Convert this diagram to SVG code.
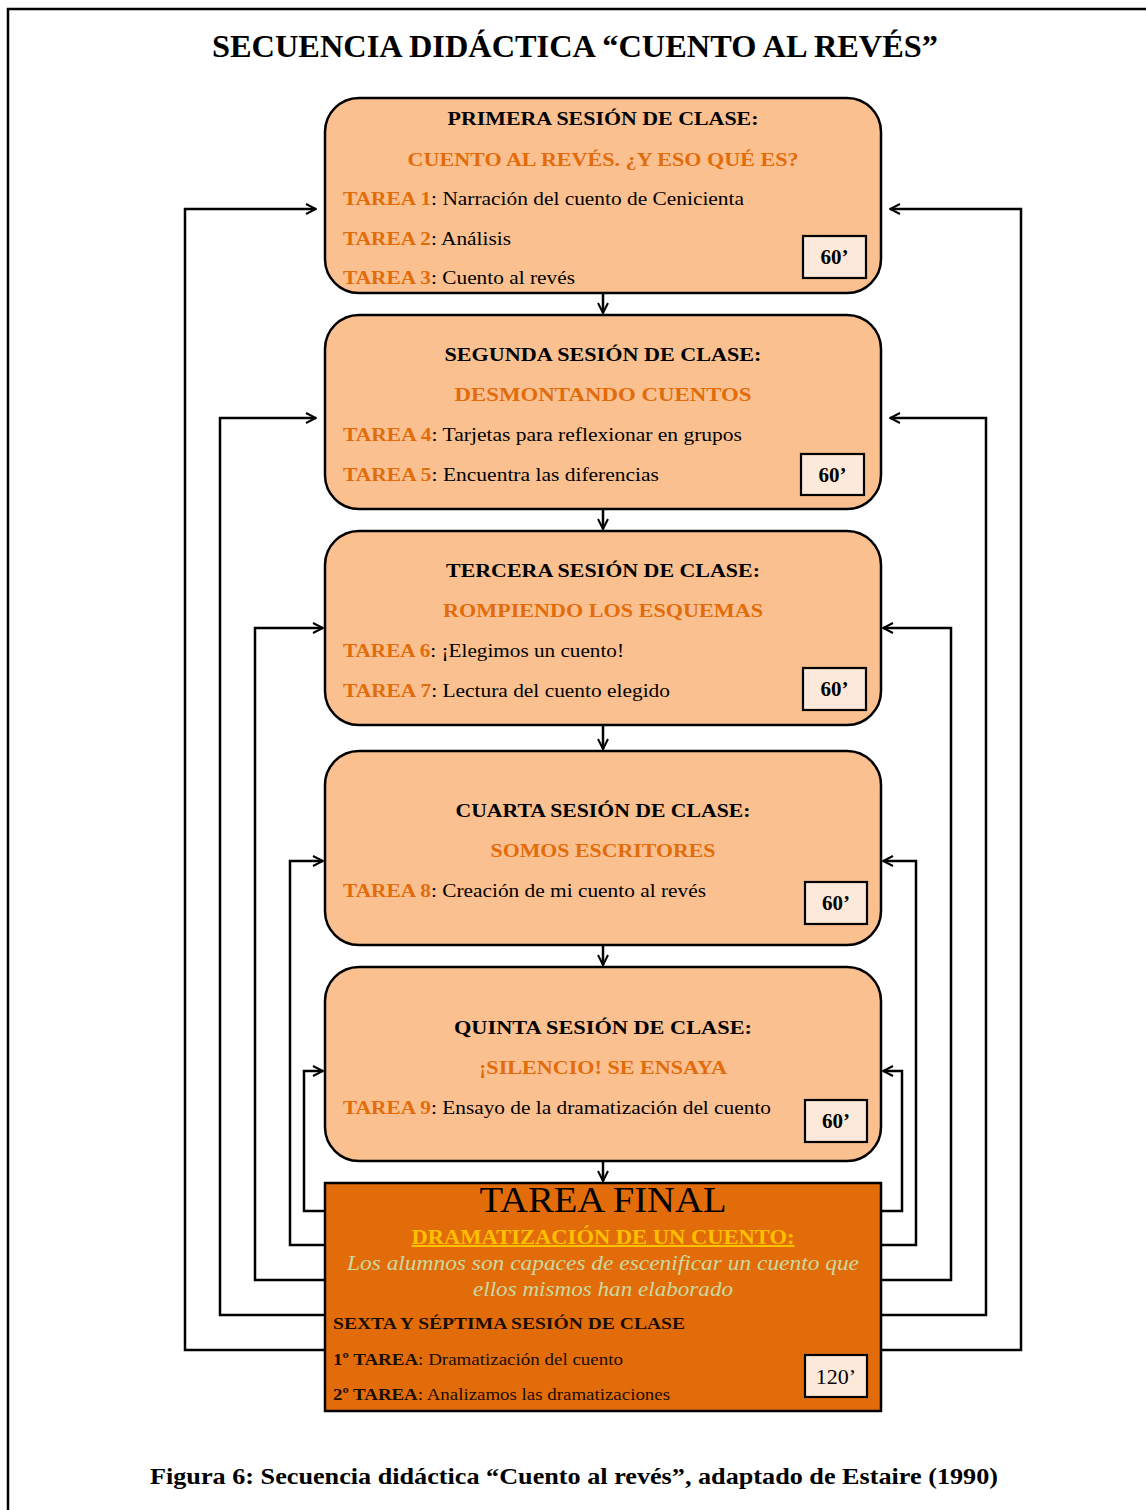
<svg xmlns="http://www.w3.org/2000/svg" width="1146" height="1510" viewBox="0 0 1146 1510">
<style>
text{font-family:"Liberation Serif","Times New Roman",serif;}
.box{fill:#FAC090;stroke:#000;stroke-width:2.5;}
.fin{fill:#E36C0A;stroke:#000;stroke-width:2.5;}
.tm{fill:#FDE9D9;stroke:#000;stroke-width:2.2;}
.t{font-size:19.5px;font-weight:bold;fill:#000;text-anchor:middle;}
.s{font-size:19.5px;font-weight:bold;fill:#E36C0A;text-anchor:middle;}
.l{font-size:19.5px;fill:#000;}
.o{fill:#E36C0A;font-weight:bold;}
.m{font-size:21px;font-weight:bold;fill:#000;text-anchor:middle;}
.c{fill:none;stroke:#000;stroke-width:2.5;}
</style>
<defs>
<marker id="ah" viewBox="0 0 12 12" refX="11" refY="6" markerWidth="12" markerHeight="12" orient="auto" markerUnits="userSpaceOnUse">
<path d="M1,1 L11,6 L1,11" fill="none" stroke="#000" stroke-width="2"/>
</marker>
</defs>
<rect width="1146" height="1510" fill="#fff"/>
<path d="M8,1510 V9 H1146" fill="none" stroke="#000" stroke-width="2.5"/>
<text x="575" y="57" font-size="31" font-weight="bold" text-anchor="middle" textLength="726" lengthAdjust="spacingAndGlyphs">SECUENCIA DIDÁCTICA “CUENTO AL REVÉS”</text>

<g id="connectors">
<path class="c" marker-end="url(#ah)" d="M325,1350 H185 V209 H316"/>
<path class="c" marker-end="url(#ah)" d="M325,1315 H220 V418 H316"/>
<path class="c" marker-end="url(#ah)" d="M325,1280 H255 V628 H323"/>
<path class="c" marker-end="url(#ah)" d="M325,1245 H290 V861 H323"/>
<path class="c" marker-end="url(#ah)" d="M325,1211 H304 V1071 H323"/>
<path class="c" marker-end="url(#ah)" d="M881,1350 H1021 V209 H890"/>
<path class="c" marker-end="url(#ah)" d="M881,1315 H986 V418 H890"/>
<path class="c" marker-end="url(#ah)" d="M881,1280 H951 V628 H883"/>
<path class="c" marker-end="url(#ah)" d="M881,1245 H916 V861 H883"/>
<path class="c" marker-end="url(#ah)" d="M881,1211 H902 V1071 H883"/>
<path class="c" marker-end="url(#ah)" d="M603,293 V313"/>
<path class="c" marker-end="url(#ah)" d="M603,509 V529"/>
<path class="c" marker-end="url(#ah)" d="M603,725 V749"/>
<path class="c" marker-end="url(#ah)" d="M603,945 V965"/>
<path class="c" marker-end="url(#ah)" d="M603,1161 V1181"/>
</g>

<g id="s1">
<rect class="box" x="325" y="98" width="556" height="195" rx="34"/>
<text class="t" x="603" y="125" textLength="311" lengthAdjust="spacingAndGlyphs">PRIMERA SESIÓN DE CLASE:</text>
<text class="s" x="603" y="166" textLength="391" lengthAdjust="spacingAndGlyphs">CUENTO AL REVÉS. ¿Y ESO QUÉ ES?</text>
<text class="l" x="343" y="205" textLength="401" lengthAdjust="spacingAndGlyphs"><tspan class="o">TAREA 1</tspan>: Narración del cuento de Cenicienta</text>
<text class="l" x="343" y="245" textLength="168" lengthAdjust="spacingAndGlyphs"><tspan class="o">TAREA 2</tspan>: Análisis</text>
<text class="l" x="343" y="284" textLength="232" lengthAdjust="spacingAndGlyphs"><tspan class="o">TAREA 3</tspan>: Cuento al revés</text>
<rect class="tm" x="803" y="236" width="63" height="42"/>
<text class="m" x="834.5" y="264">60’</text>
</g>

<g id="s2">
<rect class="box" x="325" y="315" width="556" height="194" rx="34"/>
<text class="t" x="603" y="361" textLength="317" lengthAdjust="spacingAndGlyphs">SEGUNDA SESIÓN DE CLASE:</text>
<text class="s" x="603" y="401" textLength="297" lengthAdjust="spacingAndGlyphs">DESMONTANDO CUENTOS</text>
<text class="l" x="343" y="441" textLength="399" lengthAdjust="spacingAndGlyphs"><tspan class="o">TAREA 4</tspan>: Tarjetas para reflexionar en grupos</text>
<text class="l" x="343" y="481" textLength="316" lengthAdjust="spacingAndGlyphs"><tspan class="o">TAREA 5</tspan>: Encuentra las diferencias</text>
<rect class="tm" x="801" y="454" width="63" height="41"/>
<text class="m" x="832.5" y="482">60’</text>
</g>

<g id="s3">
<rect class="box" x="325" y="531" width="556" height="194" rx="34"/>
<text class="t" x="603" y="577" textLength="314" lengthAdjust="spacingAndGlyphs">TERCERA SESIÓN DE CLASE:</text>
<text class="s" x="603" y="617" textLength="320" lengthAdjust="spacingAndGlyphs">ROMPIENDO LOS ESQUEMAS</text>
<text class="l" x="343" y="657" textLength="281" lengthAdjust="spacingAndGlyphs"><tspan class="o">TAREA 6</tspan>: ¡Elegimos un cuento!</text>
<text class="l" x="343" y="697" textLength="327" lengthAdjust="spacingAndGlyphs"><tspan class="o">TAREA 7</tspan>: Lectura del cuento elegido</text>
<rect class="tm" x="803" y="668" width="63" height="42"/>
<text class="m" x="834.5" y="696">60’</text>
</g>

<g id="s4">
<rect class="box" x="325" y="751" width="556" height="194" rx="34"/>
<text class="t" x="603" y="817" textLength="295" lengthAdjust="spacingAndGlyphs">CUARTA SESIÓN DE CLASE:</text>
<text class="s" x="603" y="857" textLength="225" lengthAdjust="spacingAndGlyphs">SOMOS ESCRITORES</text>
<text class="l" x="343" y="897" textLength="363" lengthAdjust="spacingAndGlyphs"><tspan class="o">TAREA 8</tspan>: Creación de mi cuento al revés</text>
<rect class="tm" x="805" y="882" width="62" height="42"/>
<text class="m" x="836" y="910">60’</text>
</g>

<g id="s5">
<rect class="box" x="325" y="967" width="556" height="194" rx="34"/>
<text class="t" x="603" y="1034" textLength="298" lengthAdjust="spacingAndGlyphs">QUINTA SESIÓN DE CLASE:</text>
<text class="s" x="603" y="1074" textLength="248" lengthAdjust="spacingAndGlyphs">¡SILENCIO! SE ENSAYA</text>
<text class="l" x="343" y="1114" textLength="428" lengthAdjust="spacingAndGlyphs"><tspan class="o">TAREA 9</tspan>: Ensayo de la dramatización del cuento</text>
<rect class="tm" x="805" y="1100" width="62" height="42"/>
<text class="m" x="836" y="1128">60’</text>
</g>

<g id="final">
<rect class="fin" x="325" y="1183" width="556" height="228"/>
<text x="603" y="1212" font-size="35" text-anchor="middle" fill="#000" textLength="247" lengthAdjust="spacingAndGlyphs">TAREA FINAL</text>
<text x="603" y="1244" font-size="20" font-weight="bold" text-anchor="middle" fill="#FFC000" text-decoration="underline" textLength="383" lengthAdjust="spacingAndGlyphs">DRAMATIZACIÓN DE UN CUENTO:</text>
<text x="603" y="1270" font-size="20" font-style="italic" text-anchor="middle" fill="#C9D9A0" textLength="512" lengthAdjust="spacingAndGlyphs">Los alumnos son capaces de escenificar un cuento que</text>
<text x="603" y="1296" font-size="20" font-style="italic" text-anchor="middle" fill="#C9D9A0" textLength="260" lengthAdjust="spacingAndGlyphs">ellos mismos han elaborado</text>
<text x="333" y="1329" font-size="17" font-weight="bold" fill="#1a0d00" textLength="352" lengthAdjust="spacingAndGlyphs">SEXTA Y SÉPTIMA SESIÓN DE CLASE</text>
<text x="333" y="1365" font-size="17" fill="#1a0d00" textLength="290" lengthAdjust="spacingAndGlyphs"><tspan font-weight="bold">1º TAREA</tspan>: Dramatización del cuento</text>
<text x="333" y="1400" font-size="17" fill="#1a0d00" textLength="337" lengthAdjust="spacingAndGlyphs"><tspan font-weight="bold">2º TAREA</tspan>: Analizamos las dramatizaciones</text>
<rect class="tm" x="805" y="1355" width="62" height="42"/>
<text x="836" y="1384" font-size="22" text-anchor="middle" fill="#000">120’</text>
</g>

<text x="574" y="1484" font-size="24" font-weight="bold" text-anchor="middle" textLength="848" lengthAdjust="spacingAndGlyphs">Figura 6: Secuencia didáctica “Cuento al revés”, adaptado de Estaire (1990)</text>
</svg>
